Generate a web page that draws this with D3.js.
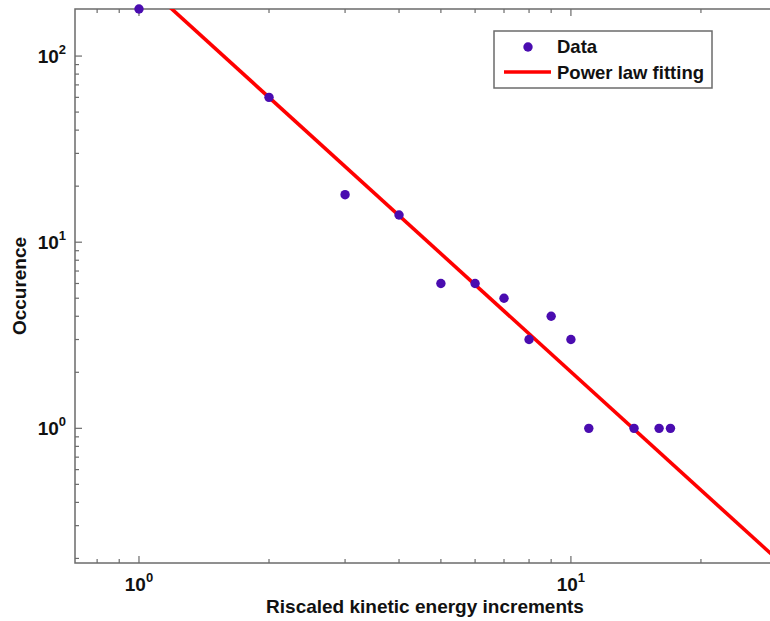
<!DOCTYPE html>
<html>
<head>
<meta charset="utf-8">
<script src="https://cdn.jsdelivr.net/npm/d3@7"></script>
<style>
  html, body { margin: 0; padding: 0; background: #fff; }
  svg { display: block; font-family: "Liberation Sans", Arial, sans-serif; }
</style>
</head>
<body>
<svg id="chart" width="770" height="621"></svg>
<script>
// measured data points (increment size vs. count)
const dataX = [1, 2, 3, 4, 5, 6, 7, 8, 9, 10, 11, 14, 16, 17];
const dataY = [179, 60, 18, 14, 6, 6, 5, 3, 4, 3, 1, 1, 1, 1];
// power law fit y = A * x^B
const fitA = 259;
const fitB = -2.11;
const xMajor = [1, 10];
const xMinor = [0.8, 0.9, 2, 3, 4, 5, 6, 7, 8, 9, 20];
const yMajor = [1, 10, 100];
const yMinor = [0.2, 0.3, 0.4, 0.5, 0.6, 0.7, 0.8, 0.9, 2, 3, 4, 5, 6, 7, 8, 9, 20, 30, 40, 50, 60, 70, 80, 90];
const legendLabels = ["Data", "Power law fitting"];

(function () {
  "use strict";
  const svg = d3.select("#chart");
  const left = 75, right = 777, top = 9, bottom = 563;
  const axisColor = "#6b6b6b";
  const dotColor = "#4a0cb0";
  const lineColor = "#ff0000";

  const x = d3.scaleLog().domain([0.711, 30]).range([left, right]);
  const y = d3.scaleLog().domain([0.189, 179]).range([bottom, top]);

  svg.append("defs").append("clipPath").attr("id", "plotClip")
    .append("rect").attr("x", left).attr("y", top)
    .attr("width", right - left).attr("height", bottom - top);

  // frame
  svg.append("rect").attr("x", left).attr("y", top).attr("width", right - left).attr("height", bottom - top)
    .attr("fill", "none").attr("stroke", axisColor).attr("stroke-width", 1.5);

  // ticks (inward, mirrored)
  const ticks = svg.append("g").attr("stroke", axisColor).attr("stroke-width", 1.2);
  function xTicks(vals, len) {
    vals.forEach((v) => {
      ticks.append("line").attr("x1", x(v)).attr("x2", x(v)).attr("y1", bottom).attr("y2", bottom - len);
      ticks.append("line").attr("x1", x(v)).attr("x2", x(v)).attr("y1", top).attr("y2", top + len);
    });
  }
  function yTicks(vals, len) {
    vals.forEach((v) => {
      ticks.append("line").attr("y1", y(v)).attr("y2", y(v)).attr("x1", left).attr("x2", left + len);
      ticks.append("line").attr("y1", y(v)).attr("y2", y(v)).attr("x1", right).attr("x2", right - len);
    });
  }
  xTicks(xMajor, 7);
  xTicks(xMinor, 4);
  yTicks(yMajor, 7);
  yTicks(yMinor, 4);

  const exp = (v) => String(Math.round(Math.log10(v)));

  // tick labels
  xMajor.forEach((v) => {
    const t = svg.append("text").attr("x", x(v)).attr("y", bottom + 28)
      .attr("text-anchor", "middle").attr("font-weight", "bold").attr("font-size", 19).attr("fill", "#111");
    t.append("tspan").text("10");
    t.append("tspan").attr("font-size", 13).attr("dy", -9).text(exp(v));
  });
  yMajor.forEach((v) => {
    const t = svg.append("text").attr("x", left - 9).attr("y", y(v) + 7)
      .attr("text-anchor", "end").attr("font-weight", "bold").attr("font-size", 19).attr("fill", "#111");
    t.append("tspan").text("10");
    t.append("tspan").attr("font-size", 13).attr("dy", -9).text(exp(v));
  });

  // axis titles
  svg.append("text").attr("x", 425).attr("y", 613)
    .attr("text-anchor", "middle").attr("font-weight", "bold").attr("font-size", 19).attr("fill", "#111")
    .text("Riscaled kinetic energy increments");
  svg.append("text").attr("transform", `translate(26,${(top + bottom) / 2}) rotate(-90)`)
    .attr("text-anchor", "middle").attr("font-weight", "bold").attr("font-size", 19).attr("fill", "#111")
    .text("Occurence");

  // fit line
  const xd = x.domain();
  const fitPts = xd.map((v) => [v, fitA * Math.pow(v, fitB)]);
  svg.append("path")
    .attr("clip-path", "url(#plotClip)")
    .attr("d", d3.line().x((p) => x(p[0])).y((p) => y(p[1]))(fitPts))
    .attr("fill", "none").attr("stroke", lineColor).attr("stroke-width", 3.6);

  // data points
  svg.append("g").selectAll("circle")
    .data(dataX.map((v, i) => [v, dataY[i]]))
    .join("circle")
    .attr("cx", (d) => x(d[0])).attr("cy", (d) => y(d[1]))
    .attr("r", 4.7).attr("fill", dotColor);

  // legend
  const lg = svg.append("g");
  lg.append("rect").attr("x", 494).attr("y", 31).attr("width", 218).attr("height", 57)
    .attr("fill", "#fff").attr("stroke", axisColor).attr("stroke-width", 1.5);
  lg.append("circle").attr("cx", 528).attr("cy", 47).attr("r", 4.7).attr("fill", dotColor);
  lg.append("line").attr("x1", 504).attr("x2", 551).attr("y1", 72).attr("y2", 72)
    .attr("stroke", lineColor).attr("stroke-width", 3.6);
  legendLabels.forEach((s, i) => {
    lg.append("text").attr("x", 557).attr("y", 53 + i * 26)
      .attr("font-weight", "bold").attr("font-size", 18.5).attr("fill", "#111").text(s);
  });
})();
</script>
</body>
</html>
